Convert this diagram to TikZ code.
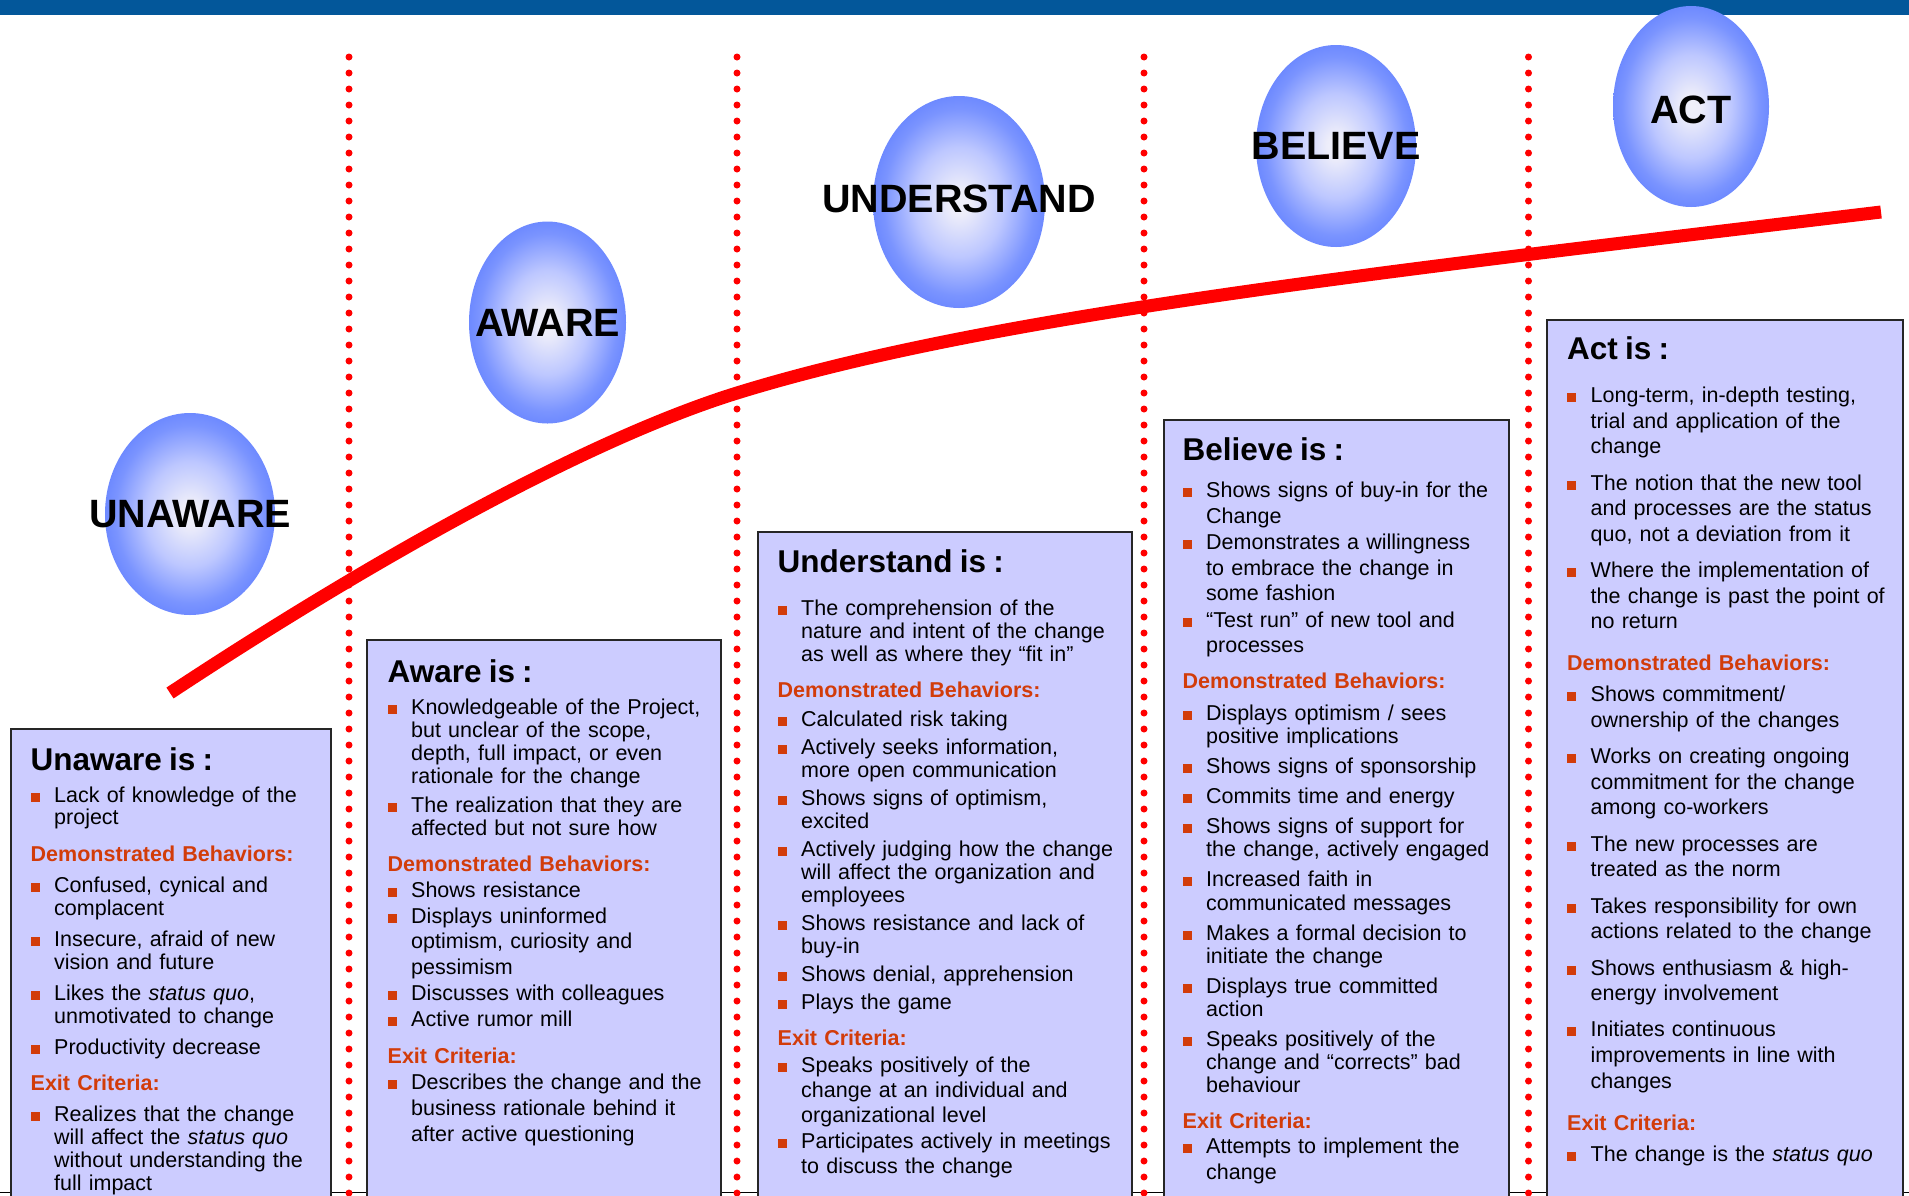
\documentclass[tikz,border=0pt]{standalone}
\usepackage{fontspec}
\setmainfont{Liberation Sans}
\usetikzlibrary{positioning,shapes.geometric}

\definecolor{bandblue}{RGB}{3,87,154}
\definecolor{boxfill}{RGB}{204,204,255}
\definecolor{critred}{RGB}{210,60,10}
\pgfdeclareradialshading{orbshade}{\pgfpoint{0bp}{0bp}}{rgb(0bp)=(0.94,0.94,0.98); rgb(3bp)=(0.93,0.93,0.98); rgb(13bp)=(0.74,0.78,1); rgb(22bp)=(0.48,0.58,1); rgb(28bp)=(0.38,0.5,1); rgb(50bp)=(0.38,0.5,1)}

\newlength\itemgap
\newlength\headgap
\newlength\afterhead
\newcommand{\pitch}[1]{\fontsize{21.5bp}{#1}\selectfont}
\newcommand{\stagetitle}[2]{\noindent{\fontsize{31.5bp}{32bp}\selectfont\bfseries #1}\par\vspace{#2}}
\newcommand{\crit}[1]{\par\vspace{\headgap}\noindent{\color{critred}\bfseries #1}\par\vspace{\afterhead}}
\newcommand{\bul}[1]{\par\vspace{\itemgap}\hangindent=23.5bp\hangafter=1\noindent\makebox[23.5bp][l]{\color{critred}\rule[0.5bp]{9bp}{9bp}}#1\par}

\begin{document}
\begin{tikzpicture}[x=1bp, y=-1bp,
  stagebox/.style={draw=black!85, line width=2bp, fill=boxfill, anchor=north west, inner sep=0pt},
  stagetext/.style={anchor=base west, inner sep=0pt, font=\pitch{23.1bp}},
  orb/.style={ellipse, shade, shading=orbshade, inner sep=0pt},
  orblabel/.style={inner sep=0pt, font=\fontsize{39.5bp}{40bp}\selectfont\bfseries},
  divider/.style={red, line width=7bp, line cap=round, dash pattern=on 0bp off 16bp},
  trend/.style={red, line width=13bp}]

	\useasboundingbox (0,0) rectangle (1909,1195);
	\fill[bandblue] (0,0) rectangle (1909,15);
	\draw[black, line width=1bp] (0,1192) -- (1909,1192);
	
	% stage borders
	\foreach \x in {349,737,1144,1528.5}
		\draw[divider] (\x,57) -- (\x,1200);
	
	% stage boxes
	\node[stagebox, minimum width=320bp, minimum height=480bp] (unawarebox) at (10,728) {};
	\node[stagebox, minimum width=354bp, minimum height=570bp] (awarebox) at (366,639) {};
	\node[stagebox, minimum width=374bp, minimum height=680bp] (understandbox) at (757,531) {};
	\node[stagebox, minimum width=345bp, minimum height=790bp] (believebox) at (1163,419) {};
	\node[stagebox, minimum width=356bp, minimum height=890bp] (actbox) at (1546,319) {};
	
	\node[stagetext, text width=299bp] (unawaretext) at (30.5,770) {%
		\pitch{22.8bp}\setlength{\itemgap}{8.2bp}\setlength{\headgap}{14bp}\setlength{\afterhead}{0bp}%
		\stagetitle{Unaware is :}{1bp}%
		\bul{Lack of knowledge of the\newline project}%
		\crit{Demonstrated Behaviors:}%
		\bul{Confused, cynical and\newline complacent}%
		\bul{Insecure, afraid of new\newline vision and future}%
		\bul{Likes the \textit{status quo},\newline unmotivated to change}%
		\bul{Productivity decrease}%
		\crit{Exit Criteria:}%
		\bul{Realizes that the change\newline will affect the \textit{status quo}\newline without understanding the\newline full impact}};
	
	\node[stagetext, text width=332bp] (awaretext) at (387.5,682) {%
		\pitch{23.1bp}\setlength{\itemgap}{6bp}\setlength{\headgap}{12.4bp}\setlength{\afterhead}{0bp}%
		\stagetitle{Aware is :}{3.1bp}%
		\bul{Knowledgeable of the Project,\newline but unclear of the scope,\newline depth, full impact, or even\newline rationale for the change}%
		\bul{The realization that they are\newline affected but not sure how}%
		\crit{Demonstrated Behaviors:}%
		\pitch{25.6bp}\setlength{\itemgap}{0.4bp}\setlength{\headgap}{11bp}\setlength{\afterhead}{0.8bp}%
		\bul{Shows resistance}%
		\bul{Displays uninformed\newline optimism, curiosity and\newline pessimism}%
		\bul{Discusses with colleagues}%
		\bul{Active rumor mill}%
		\crit{Exit Criteria:}%
		\bul{Describes the change and the\newline business rationale behind it\newline after active questioning}};
	
	\node[stagetext, text width=353bp] (understandtext) at (777.5,572) {%
		\pitch{23.1bp}\setlength{\itemgap}{4.8bp}\setlength{\headgap}{12.6bp}\setlength{\afterhead}{1bp}%
		\stagetitle{Understand is :}{15.7bp}%
		\bul{The comprehension of the\newline nature and intent of the change\newline as well as where they “fit in”}%
		\crit{Demonstrated Behaviors:}%
		\bul{Calculated risk taking}%
		\bul{Actively seeks information,\newline more open communication}%
		\bul{Shows signs of optimism,\newline excited}%
		\bul{Actively judging how the change\newline will affect the organization and\newline employees}%
		\bul{Shows resistance and lack of\newline buy-in}%
		\bul{Shows denial, apprehension}%
		\bul{Plays the game}%
		\crit{Exit Criteria:}%
		\pitch{25bp}\setlength{\itemgap}{1.2bp}%
		\bul{Speaks positively of the\newline change at an individual and\newline organizational level}%
		\bul{Participates actively in meetings\newline to discuss the change}};
	
	\node[stagetext, text width=325bp] (believetext) at (1182.5,460) {%
		\pitch{25.5bp}\setlength{\itemgap}{1bp}\setlength{\headgap}{10.5bp}\setlength{\afterhead}{1.6bp}%
		\stagetitle{Believe is :}{11.1bp}%
		\bul{Shows signs of buy-in for the\newline Change}%
		\bul{Demonstrates a willingness\newline to embrace the change in\newline some fashion}%
		\bul{“Test run” of new tool and\newline processes}%
		\crit{Demonstrated Behaviors:}%
		\pitch{23.1bp}\setlength{\itemgap}{7bp}\setlength{\headgap}{12.3bp}\setlength{\afterhead}{0bp}%
		\bul{Displays optimism / sees\newline positive implications}%
		\bul{Shows signs of sponsorship}%
		\bul{Commits time and energy}%
		\bul{Shows signs of support for\newline the change, actively engaged}%
		\bul{Increased faith in\newline communicated messages}%
		\bul{Makes a formal decision to\newline initiate the change}%
		\bul{Displays true committed\newline action}%
		\bul{Speaks positively of the\newline change and “corrects” bad\newline behaviour}%
		\crit{Exit Criteria:}%
		\pitch{25.6bp}\setlength{\itemgap}{0bp}%
		\bul{Attempts to implement the\newline change}};
	
	\node[stagetext, text width=335bp] (acttext) at (1567,359.5) {%
		\pitch{25.6bp}\setlength{\itemgap}{10.7bp}\setlength{\headgap}{16.4bp}\setlength{\afterhead}{-5.2bp}%
		\stagetitle{Act is :}{6.7bp}%
		\bul{Long-term, in-depth testing,\newline trial and application of the\newline change}%
		\bul{The notion that the new tool\newline and processes are the status\newline quo, not a deviation from it}%
		\bul{Where the implementation of\newline the change is past the point of\newline no return}%
		\crit{Demonstrated Behaviors:}%
		\bul{Shows commitment/\newline ownership of the changes}%
		\bul{Works on creating ongoing\newline commitment for the change\newline among co-workers}%
		\bul{The new processes are\newline treated as the norm}%
		\bul{Takes responsibility for own\newline actions related to the change}%
		\bul{Shows enthusiasm \& high-\newline energy involvement}%
		\bul{Initiates continuous\newline improvements in line with\newline changes}%
		\crit{Exit Criteria:}%
		\bul{The change is the \textit{status quo}}};
	
	% adoption curve
	\coordinate (curvestart) at (170,693);
	\coordinate (curvemid) at (737,393);
	\coordinate (curveend) at (1881,212);
	\draw[trend] (curvestart) .. controls (370,561) and (587,439.5) .. (curvemid)
		.. controls (987,315.5) and (1381,272) .. (curveend);
	
	% stages
	\node[orb, minimum width=170bp, minimum height=202bp] (unaware) at (190,514) {};
	\node[orblabel] (unawarelabel) at (unaware) {UNAWARE};
	\node[orb, minimum width=157bp, minimum height=202bp] (aware) at (547.5,322.5) {};
	\node[orblabel] (awarelabel) at (aware) {AWARE};
	\node[orb, minimum width=172bp, minimum height=212bp] (understand) at (959,202) {};
	\node[orblabel] (understandlabel) at ([yshift=3bp]understand.center) {UNDERSTAND};
	\node[orb, minimum width=160bp, minimum height=202bp] (believe) at (1336,146) {};
	\node[orblabel] (believelabel) at (believe) {BELIEVE};
	\node[orb, minimum width=156bp, minimum height=201bp] (act) at (1691,106.5) {};
	\node[orblabel] (actlabel) at ([yshift=-3bp]act.center) {ACT};
\end{tikzpicture}
\end{document}
